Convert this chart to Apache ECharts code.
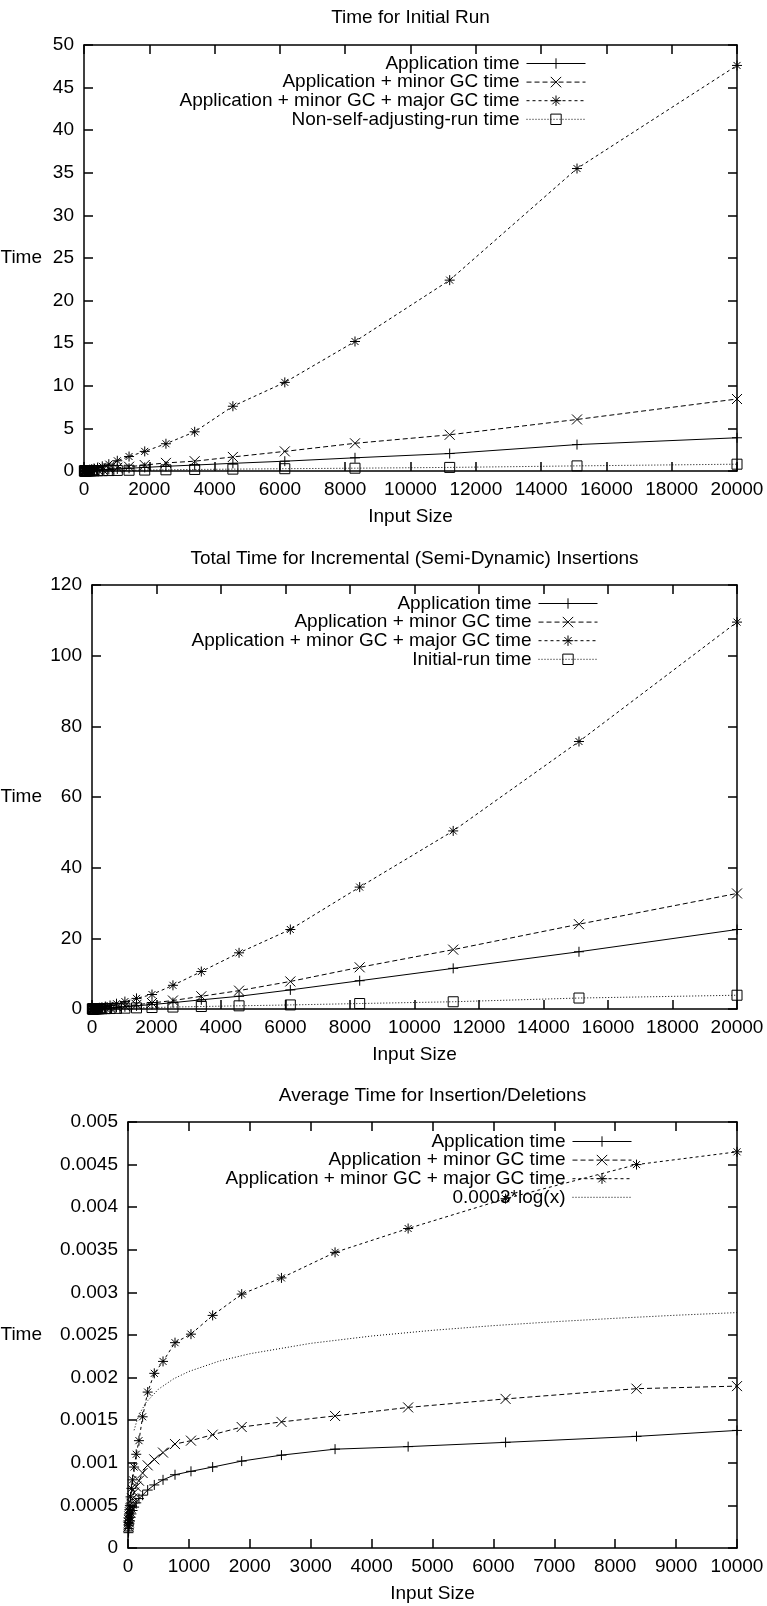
<!DOCTYPE html>
<html><head><meta charset="utf-8">
<script src="https://cdn.jsdelivr.net/npm/echarts@6/dist/echarts.min.js"></script>
<style>html,body{margin:0;padding:0;background:#fff}#c{width:767px;height:1606px}</style>
</head><body><div id="c"></div>
<script>
// ---------- data ----------
const titles = ['Time for Initial Run', 'Total Time for Incremental (Semi-Dynamic) Insertions', 'Average Time for Insertion/Deletions'];
const names1 = ['Application time', 'Application + minor GC time', 'Application + minor GC + major GC time', 'Non-self-adjusting-run time'];
const names2 = ['Application time', 'Application + minor GC time', 'Application + minor GC + major GC time', 'Initial-run time'];
const names3 = ['Application time', 'Application + minor GC time', 'Application + minor GC + major GC time', '0.0003*log(x)'];

const sizes12 = [11,15,21,28,38,51,69,93,125,169,228,308,415,560,760,1020,1380,1860,2510,3390,4560,6150,8300,11200,15100,20000];
const run1App   = [0.003,0.004,0.005,0.007,0.009,0.012,0.016,0.022,0.03,0.04,0.055,0.075,0.1,0.13,0.18,0.24,0.32,0.42,0.55,0.7,0.9,1.15,1.55,2.05,3.1,3.9];
const run1Minor = [0.004,0.005,0.007,0.01,0.013,0.018,0.025,0.034,0.045,0.06,0.08,0.11,0.15,0.2,0.28,0.38,0.5,0.7,0.95,1.15,1.65,2.3,3.25,4.25,6.05,8.45];
const run1Major = [0.008,0.01,0.015,0.02,0.03,0.04,0.05,0.08,0.1,0.15,0.2,0.3,0.4,0.55,0.8,1.2,1.7,2.3,3.2,4.6,7.6,10.4,15.2,22.4,35.5,47.6];
const run1NonSA = [0.001,0.001,0.002,0.002,0.003,0.004,0.005,0.007,0.009,0.012,0.016,0.021,0.028,0.037,0.05,0.065,0.085,0.11,0.14,0.18,0.22,0.27,0.33,0.42,0.6,0.8];

const incApp     = [0.004,0.005,0.007,0.01,0.014,0.02,0.028,0.04,0.055,0.08,0.11,0.16,0.22,0.31,0.44,0.62,0.9,1.25,1.8,2.6,3.6,5.4,8.0,11.5,16.2,22.5];
const incMinor   = [0.005,0.007,0.01,0.014,0.02,0.028,0.04,0.055,0.075,0.1,0.15,0.21,0.3,0.42,0.6,0.85,1.2,1.7,2.4,3.6,5.2,7.8,11.8,16.8,24.0,32.7];
const incMajor   = [0.01,0.015,0.022,0.03,0.045,0.065,0.09,0.13,0.18,0.25,0.35,0.5,0.7,1.0,1.5,2.1,3.0,4.1,6.7,10.6,15.9,22.5,34.5,50.4,75.7,109.5];
const incInitial = [0.003,0.004,0.005,0.007,0.009,0.012,0.016,0.022,0.03,0.04,0.055,0.075,0.1,0.13,0.18,0.24,0.32,0.42,0.55,0.7,0.9,1.15,1.55,2.05,3.1,3.9];

const sizes3   = [7,10,13,17,23,31,42,56,75,100,135,180,240,323,432,575,772,1034,1390,1867,2520,3400,4600,6200,8350,10000];
const avgApp   = [0.00018,0.0002,0.00023,0.00026,0.00029,0.00032,0.00036,0.0004,0.00044,0.00048,0.00053,0.00058,0.00062,0.00068,0.00074,0.0008,0.00086,0.0009,0.00095,0.00102,0.00109,0.00116,0.00119,0.00124,0.00131,0.00138];
const avgMinor = [0.00025,0.00027,0.0003,0.00033,0.00037,0.00042,0.00047,0.00052,0.00058,0.00065,0.00072,0.00079,0.00088,0.00097,0.00104,0.00112,0.00122,0.00126,0.00133,0.00142,0.00148,0.00155,0.00165,0.00175,0.00187,0.0019];
const avgMajor = [0.00027,0.0003,0.00035,0.0004,0.00045,0.0005,0.0006,0.0007,0.0008,0.00095,0.0011,0.00126,0.00154,0.00183,0.00205,0.00219,0.00241,0.00251,0.00273,0.00298,0.00317,0.00347,0.00375,0.0041,0.0045,0.00465];
const logX = [100,150,200,300,500,750,1000,1500,2000,3000,4000,5000,6000,7000,8000,9000,10000];
const logY = [0.001382,0.001503,0.001589,0.001711,0.001864,0.001986,0.002072,0.002194,0.00228,0.002402,0.002488,0.002555,0.00261,0.002656,0.002696,0.002732,0.002763];

// ---------- styling ----------
const FONT = 'Liberation Sans';
const txt = {color:'#000', fontSize:19, fontFamily:FONT};
const SYM_PLUS  = 'path://M0,5L10,5M5,0L5,10';
const SYM_CROSS = 'path://M0,0L10,10M0,10L10,0';
const SYM_STAR  = 'path://M0,5L10,5M5,0L5,10M1.5,1.5L8.5,8.5M1.5,8.5L8.5,1.5';
const SYM_BOX   = 'path://M0,0L10,0L10,10L0,10Z';
const DASH_MINOR = [5,3], DASH_MAJOR = [3,3], DASH_DOT = [1,2];

const grids = [
  {left:84, top:45, right:30, height:426},
  {left:92, top:585, right:30, height:424},
  {left:128, top:1122, right:30, height:426}
];
const xCfg = [{max:20000, interval:2000},{max:20000, interval:2000},{max:10000, interval:1000}];
const yCfg = [{max:50, interval:5, gap:42},{max:120, interval:20, gap:50},{max:0.005, interval:0.0005, gap:86}];

const lineAx = {show:true, onZero:false, lineStyle:{color:'#000', width:1.5}};
const tickAx = {show:true, inside:true, length:9, lineStyle:{color:'#000', width:1.5}};

const xAxis = [], yAxis = [];
grids.forEach((g, i) => {
  ['bottom','top'].forEach(pos => {
    const main = pos === 'bottom';
    xAxis.push({type:'value', gridIndex:i, position:pos, min:0, max:xCfg[i].max, interval:xCfg[i].interval,
      axisLine:lineAx, axisTick:tickAx, splitLine:{show:false},
      axisLabel:Object.assign({show:main, margin:9, hideOverlap:false, formatter: v => String(v)}, txt),
      name: main ? 'Input Size' : '', nameLocation:'middle', nameGap:36, nameTextStyle:txt});
  });
  ['left','right'].forEach(pos => {
    const main = pos === 'left';
    yAxis.push({type:'value', gridIndex:i, position:pos, min:0, max:yCfg[i].max, interval:yCfg[i].interval,
      axisLine:lineAx, axisTick:tickAx, splitLine:{show:false},
      axisLabel:Object.assign({show:main, margin:10, hideOverlap:false,
        formatter: v => String(+(+v).toFixed(4))}, txt),
      name: main ? 'Time' : '', nameLocation:'middle', nameRotate:0, nameGap:yCfg[i].gap, nameTextStyle:txt});
  });
});

function ser(name, xs, ys, g, sym, dash) {
  return {name, type:'line', xAxisIndex:2*g, yAxisIndex:2*g,
    data: xs.map((x, k) => [x, ys[k]]),
    symbol: sym || 'none', symbolSize:10, showSymbol: !!sym, showAllSymbol:true,
    lineStyle:{color:'#000', width:1, type:dash},
    itemStyle:{color:'rgba(0,0,0,0)', borderColor: sym ? '#000' : 'rgba(0,0,0,0)', borderWidth: sym ? 1 : 0},
    emphasis:{disabled:true}, silent:true, clip:true, z: 3};
}

const series = [
  ser(names1[0], sizes12, run1App, 0, SYM_PLUS, 'solid'),
  ser(names1[1], sizes12, run1Minor, 0, SYM_CROSS, DASH_MINOR),
  ser(names1[2], sizes12, run1Major, 0, SYM_STAR, DASH_MAJOR),
  ser(names1[3], sizes12, run1NonSA, 0, SYM_BOX, DASH_DOT),
  ser(names2[0], sizes12, incApp, 1, SYM_PLUS, 'solid'),
  ser(names2[1], sizes12, incMinor, 1, SYM_CROSS, DASH_MINOR),
  ser(names2[2], sizes12, incMajor, 1, SYM_STAR, DASH_MAJOR),
  ser(names2[3], sizes12, incInitial, 1, SYM_BOX, DASH_DOT),
  ser(names3[0], sizes3, avgApp, 2, SYM_PLUS, 'solid'),
  ser(names3[1], sizes3, avgMinor, 2, SYM_CROSS, DASH_MINOR),
  ser(names3[2], sizes3, avgMajor, 2, SYM_STAR, DASH_MAJOR),
  ser(names3[3], logX, logY, 2, null, DASH_DOT)
];

function legends(names, right, top0) {
  return names.map((n, i) => ({
    data:[n], right:right, top: top0 + i*18.6, orient:'horizontal', align:'right',
    itemWidth:59, itemHeight:13, itemGap:0, padding:0, selectedMode:false,
    lineStyle:{width:1}, itemStyle:{borderWidth:1},
    textStyle:Object.assign({lineHeight:18, padding:[0,2,0,0]}, txt)
  }));
}

const legend = [].concat(
  legends(names1, 181, 54),
  legends(names2, 169, 594),
  legends(names3, 135, 1132)
);

const title = titles.map((t, i) => ({
  text:t, left: (grids[i].left + 737) / 2, top:[8, 549, 1086][i], textAlign:'center', padding:0,
  textStyle:Object.assign({fontWeight:'normal'}, txt)
}));

const chart = echarts.init(document.getElementById('c'), null, {renderer:'canvas'});
chart.setOption({
  backgroundColor:'#fff', animation:false,
  title, legend,
  grid: grids.map(g => Object.assign({containLabel:false, outerBoundsMode:'none'}, g)),
  xAxis, yAxis, series
});
</script></body></html>
